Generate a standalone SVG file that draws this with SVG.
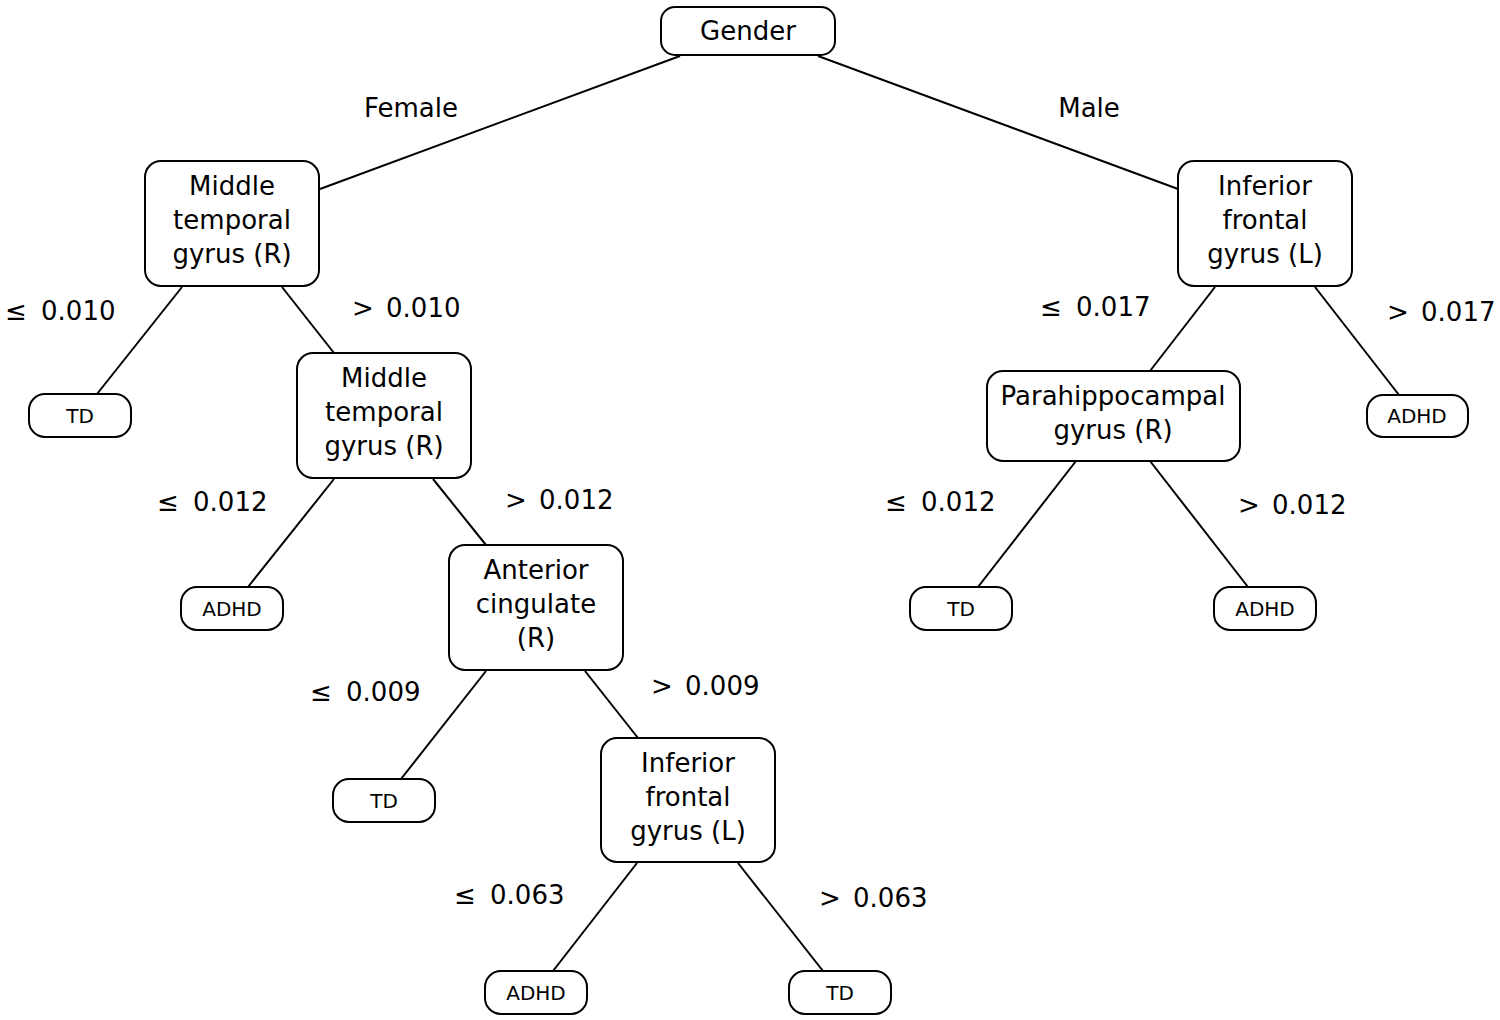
<svg xmlns="http://www.w3.org/2000/svg" width="1500" height="1020" viewBox="0 0 1500 1020">
<style>
.n{fill:#fff;stroke:#000;stroke-width:2}
.t{font-family:"DejaVu Sans",Verdana,sans-serif;font-size:26px;text-anchor:middle;fill:#000}
.s{font-family:"DejaVu Sans",Verdana,sans-serif;font-size:20px;text-anchor:middle;fill:#000}
.l{font-family:"DejaVu Sans",Verdana,sans-serif;font-size:26px;fill:#000}
.c line{stroke:#000;stroke-width:2}
</style>
<rect width="1500" height="1020" fill="#fff"/>
<g class="c" id="connectors">
<line x1="680" y1="56" x2="320" y2="189"/>
<line x1="818" y1="56" x2="1178" y2="189"/>
<line x1="182" y1="287" x2="97" y2="394"/>
<line x1="282" y1="287" x2="334" y2="353"/>
<line x1="334" y1="479" x2="248" y2="587"/>
<line x1="433" y1="479" x2="486" y2="545"/>
<line x1="486" y1="671" x2="401" y2="779"/>
<line x1="585" y1="671" x2="638" y2="738"/>
<line x1="637" y1="863" x2="553" y2="971"/>
<line x1="738" y1="863" x2="823" y2="971"/>
<line x1="1215" y1="287" x2="1150" y2="371"/>
<line x1="1315" y1="287" x2="1399" y2="395"/>
<line x1="1076" y1="461" x2="978" y2="587"/>
<line x1="1150" y1="461" x2="1248" y2="587"/>
</g>
<g id="labels">
<text class="l" x="411" y="117" text-anchor="middle">Female</text>
<text class="l" x="1089" y="117" text-anchor="middle">Male</text>
<text class="l" x="5" y="320">≤<tspan dx="6"> 0.010</tspan></text>
<text class="l" x="352" y="317">&gt;<tspan dx="4"> 0.010</tspan></text>
<text class="l" x="157" y="511">≤<tspan dx="6"> 0.012</tspan></text>
<text class="l" x="505" y="509">&gt;<tspan dx="4"> 0.012</tspan></text>
<text class="l" x="310" y="701">≤<tspan dx="6"> 0.009</tspan></text>
<text class="l" x="651" y="695">&gt;<tspan dx="4"> 0.009</tspan></text>
<text class="l" x="454" y="904">≤<tspan dx="6"> 0.063</tspan></text>
<text class="l" x="819" y="907">&gt;<tspan dx="4"> 0.063</tspan></text>
<text class="l" x="1040" y="316">≤<tspan dx="6"> 0.017</tspan></text>
<text class="l" x="1387" y="321">&gt;<tspan dx="4"> 0.017</tspan></text>
<text class="l" x="885" y="511">≤<tspan dx="6"> 0.012</tspan></text>
<text class="l" x="1238" y="514">&gt;<tspan dx="4"> 0.012</tspan></text>
</g>
<g id="gender"><rect class="n" x="661" y="7" width="174" height="48" rx="14"/><text class="t" x="748" y="40">Gender</text></g>
<g id="mtg1"><rect class="n" x="145" y="161" width="174" height="125" rx="16"/><text class="t" x="232" y="195">Middle</text><text class="t" x="232" y="229">temporal</text><text class="t" x="232" y="263">gyrus (R)</text></g>
<g id="ifg1"><rect class="n" x="1178" y="161" width="174" height="125" rx="16"/><text class="t" x="1265" y="195">Inferior</text><text class="t" x="1265" y="229">frontal</text><text class="t" x="1265" y="263">gyrus (L)</text></g>
<g id="td1"><rect class="n" x="29" y="394" width="102" height="43" rx="16"/><text class="s" x="80" y="423">TD</text></g>
<g id="mtg2"><rect class="n" x="297" y="353" width="174" height="125" rx="16"/><text class="t" x="384" y="387">Middle</text><text class="t" x="384" y="421">temporal</text><text class="t" x="384" y="455">gyrus (R)</text></g>
<g id="adhd1"><rect class="n" x="181" y="587" width="102" height="43" rx="16"/><text class="s" x="232" y="616">ADHD</text></g>
<g id="ac"><rect class="n" x="449" y="545" width="174" height="125" rx="16"/><text class="t" x="536" y="579">Anterior</text><text class="t" x="536" y="613">cingulate</text><text class="t" x="536" y="647">(R)</text></g>
<g id="td2"><rect class="n" x="333" y="779" width="102" height="43" rx="16"/><text class="s" x="384" y="808">TD</text></g>
<g id="ifg2"><rect class="n" x="601" y="738" width="174" height="124" rx="16"/><text class="t" x="688" y="772">Inferior</text><text class="t" x="688" y="806">frontal</text><text class="t" x="688" y="840">gyrus (L)</text></g>
<g id="adhd2"><rect class="n" x="485" y="971" width="102" height="43" rx="16"/><text class="s" x="536" y="1000">ADHD</text></g>
<g id="td3"><rect class="n" x="789" y="971" width="102" height="43" rx="16"/><text class="s" x="840" y="1000">TD</text></g>
<g id="adhd3"><rect class="n" x="1367" y="395" width="101" height="42" rx="16"/><text class="s" x="1417" y="423">ADHD</text></g>
<g id="phg"><rect class="n" x="987" y="371" width="253" height="90" rx="16"/><text class="t" x="1113" y="405">Parahippocampal</text><text class="t" x="1113" y="439">gyrus (R)</text></g>
<g id="td4"><rect class="n" x="910" y="587" width="102" height="43" rx="16"/><text class="s" x="961" y="616">TD</text></g>
<g id="adhd4"><rect class="n" x="1214" y="587" width="102" height="43" rx="16"/><text class="s" x="1265" y="616">ADHD</text></g>
</svg>
